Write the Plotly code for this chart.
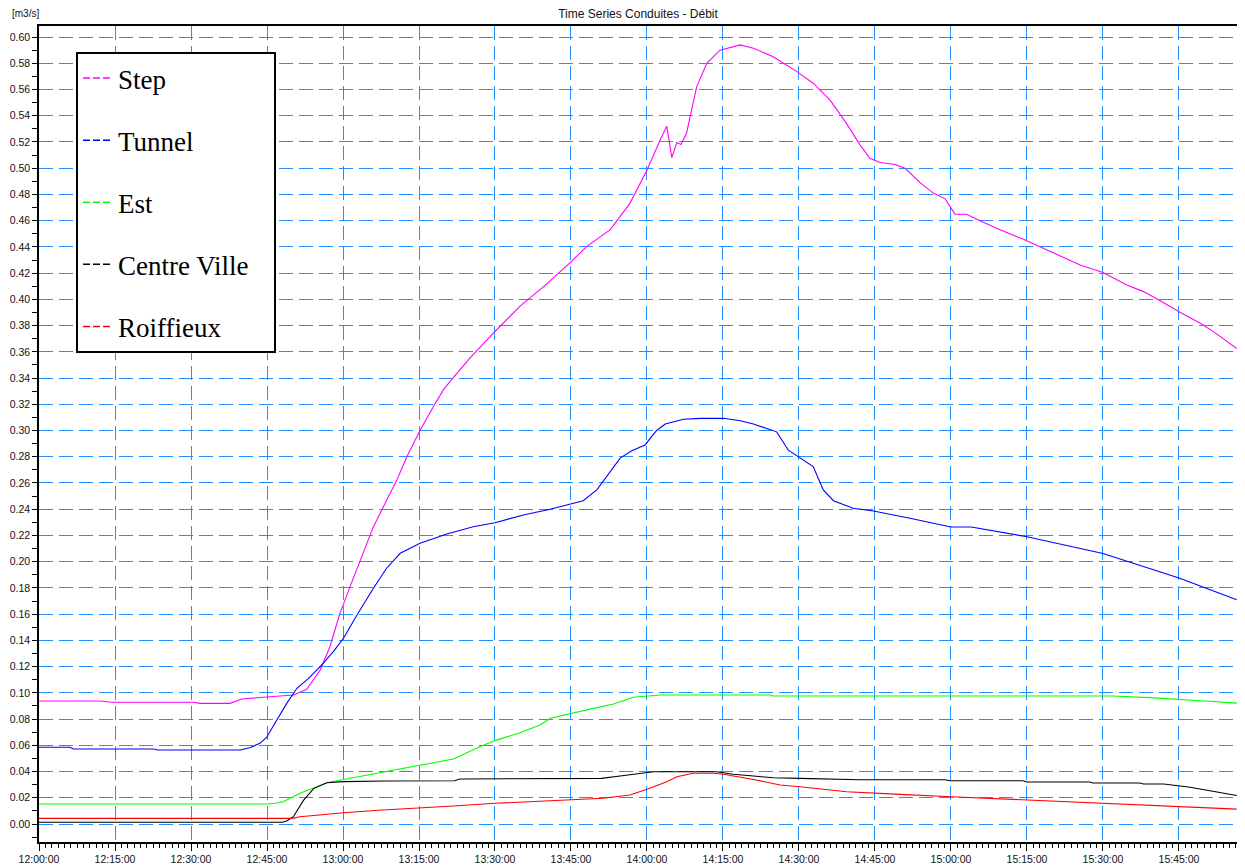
import pandas as pd
import plotly.graph_objects as go

BASE = pd.Timestamp("2024-01-01 12:00:00")

# ---- data (time in minutes after 12:00:00, discharge in m3/s) ----
step_t = [0, 12, 14.3, 30.5, 31.8, 37.7, 40, 41.6, 47, 50.2, 52.8, 55.5, 57.4, 59.4, 61.4,
          63.4, 66, 68, 70.6, 72.6, 75.2, 77.8, 79.8, 81.4, 85, 90, 95, 100, 105, 108,
          112.7, 116.6, 120, 122.6, 123.9, 124.9, 125.9, 126.7, 127.8, 129.8, 131.8, 134.4,
          138.4, 141, 144.9, 149.6, 152.8, 156.1, 159.4, 162, 164, 166, 169, 171, 173.9,
          176.5, 178.8, 180.8, 183.1, 185.7, 189.7, 194.3, 197.6, 200.2, 205.5, 210, 214.7,
          218, 221.3, 225, 229.2, 231.8, 236.4]
step_v = [0.0938, 0.0938, 0.0928, 0.0928, 0.0920, 0.0920, 0.0953, 0.0958, 0.0970, 0.0984,
          0.1025, 0.1174, 0.135, 0.1606, 0.181, 0.201, 0.2267, 0.242, 0.262, 0.280, 0.300,
          0.318, 0.331, 0.3386, 0.355, 0.3755, 0.395, 0.411, 0.4285, 0.440, 0.453, 0.473,
          0.4987, 0.5215, 0.532, 0.508, 0.5195, 0.518, 0.5266, 0.562, 0.580, 0.590, 0.594,
          0.5915, 0.585, 0.5736, 0.5648, 0.552, 0.534, 0.518, 0.5076, 0.5043, 0.5028, 0.4997,
          0.489, 0.481, 0.4768, 0.465, 0.4649, 0.460, 0.453, 0.4458, 0.440, 0.4356, 0.4262,
          0.4204, 0.411, 0.4059, 0.399, 0.3906, 0.3818, 0.3754, 0.3625]

tunnel_t = [0, 6.1, 6.8, 22.6, 23.5, 39.7, 41.6, 43.6, 44.9, 46.9, 48.9, 50.9, 53.2, 55.5,
            58.1, 60.1, 62.7, 66, 68.6, 71.3, 75.2, 80.5, 85.7, 90, 95.6, 100.9, 104.8, 107.4,
            110.1, 114.7, 117, 119.6, 121.9, 123.6, 127.2, 130.5, 135.1, 138.4, 141, 145.6,
            147.9, 149.9, 152.8, 154.8, 156.8, 160.7, 164.7, 171.9, 180, 184, 195, 210, 225,
            236.4]
tunnel_v = [0.0585, 0.0585, 0.0572, 0.0572, 0.0564, 0.0564, 0.0582, 0.0615, 0.066, 0.0793,
            0.092, 0.1035, 0.111, 0.120, 0.1314, 0.1416, 0.159, 0.1797, 0.195, 0.2064, 0.214,
            0.2211, 0.2267, 0.2297, 0.2356, 0.240, 0.244, 0.2465, 0.2547, 0.279, 0.2846,
            0.289, 0.300, 0.305, 0.3086, 0.3093, 0.3093, 0.3075, 0.305, 0.299, 0.285, 0.280,
            0.2725, 0.2547, 0.2465, 0.2407, 0.2387, 0.2331, 0.2265, 0.2265, 0.219, 0.2062,
            0.1876, 0.171]

est_t = [0, 45, 47, 48.2, 51.5, 56.8, 60.1, 67, 74.5, 81.8, 87, 90, 94.9, 98.9, 100.9, 105,
         109.4, 113.4, 117.3, 122.6, 144.3, 145, 212, 220, 225, 230, 236.4]
est_v = [0.0153, 0.0153, 0.016, 0.017, 0.0234, 0.0315, 0.034, 0.039, 0.0442, 0.0496, 0.059,
         0.0636, 0.0696, 0.0755, 0.0806, 0.0844, 0.0882, 0.0915, 0.0966, 0.0984, 0.0984,
         0.0976, 0.0976, 0.0962, 0.0948, 0.0938, 0.0922]

centre_t = [0, 48, 48.9, 50.2, 52.2, 54.2, 56.8, 60.1, 68.6, 82, 83.1, 96.6, 100.9, 111,
            114.7, 117.3, 121.3, 133.7, 137, 141, 144.9, 150.2, 160.7, 162, 178.8, 179.8,
            194.2, 195, 207.4, 208, 217.3, 218, 222, 224.6, 227.2, 236.4]
centre_v = [0.0013, 0.0013, 0.0023, 0.0056, 0.018, 0.027, 0.0315, 0.0323, 0.0328, 0.033,
            0.0343, 0.0343, 0.0348, 0.0348, 0.0366, 0.0379, 0.0399, 0.0399, 0.0379, 0.0366,
            0.0353, 0.0348, 0.0343, 0.0338, 0.0338, 0.033, 0.033, 0.032, 0.032, 0.0313,
            0.0313, 0.0305, 0.0305, 0.0295, 0.028, 0.0218]

roif_t = [0, 50, 51.5, 56.8, 60.1, 67, 75.2, 81.8, 90, 101.5, 111.4, 116.6, 120, 123.9,
          125.9, 129.1, 133.1, 135.1, 141, 146.3, 150.2, 159.4, 164.7, 170, 180, 195, 210,
          225, 236.4]
roif_v = [0.0043, 0.0043, 0.0056, 0.0076, 0.0086, 0.0105, 0.012, 0.0137, 0.0158, 0.0178,
          0.0196, 0.0221, 0.0265, 0.0323, 0.0361, 0.0387, 0.0387, 0.0379, 0.034, 0.0297,
          0.0284, 0.0246, 0.0234, 0.0226, 0.0208, 0.0183, 0.0163, 0.0137, 0.0114]

series_names = ["Step", "Tunnel", "Est", "Centre Ville", "Roiffieux"]
series_colors = ["#FF00FF", "#0000FF", "#00FF00", "#000000", "#FF0000"]
series_t = [step_t, tunnel_t, est_t, centre_t, roif_t]
series_v = [step_v, tunnel_v, est_v, centre_v, roif_v]

x_end_min = 236.45
y_range = [-0.0137, 0.6084]

# the page body has an 8px default margin: size the figure so it fits the window
FIG_W, FIG_H = 1237, 858
M_L, M_R, M_T, M_B = 31, 8, 18, 24
PLOT_W = FIG_W - M_L - M_R
PLOT_H = FIG_H - M_T - M_B


def to_time(mins):
    return BASE + pd.to_timedelta(pd.Series(mins, dtype=float), unit="min")


fig = go.Figure()
for name, col, t, v in zip(series_names, series_colors, series_t, series_v):
    fig.add_trace(go.Scatter(x=to_time(t), y=v, mode="lines", name=name,
                             line=dict(color=col, width=1.1), showlegend=False,
                             hoverinfo="x+y+name"))
# legend entries (dashed symbols like the original)
for i, (name, col) in enumerate(zip(series_names, series_colors)):
    label = name + ("\u00a0\u00a0\u00a0" if name == "Centre Ville" else "")
    fig.add_trace(go.Scatter(x=[None], y=[None], mode="lines", name=label,
                             line=dict(color=col, width=1.5, dash="7px,3px"),
                             legendgroup=f"g{i}", showlegend=True))

grid_col = "#1E90FF"
axis_font = dict(family="Liberation Sans, Arial, sans-serif", size=10.5, color="#111")

fig.update_layout(
    width=FIG_W, height=FIG_H,
    margin=dict(l=M_L, r=M_R, t=M_T, b=M_B, autoexpand=False),
    paper_bgcolor="white", plot_bgcolor="white",
    title=dict(text="Time Series Conduites - Débit", x=0.5, xref="paper", xanchor="center",
               y=1 - 6 / FIG_H, yref="container", yanchor="middle",
               font=dict(family="Liberation Sans, Arial, sans-serif", size=12, color="#111")),
    showlegend=True,
    legend=dict(x=37 / PLOT_W, y=1 - 26 / PLOT_H, xanchor="left", yanchor="top",
                bgcolor="white", bordercolor="black", borderwidth=2,
                font=dict(family="Liberation Serif, Times New Roman, serif", size=27,
                          color="black"),
                tracegroupgap=24, itemwidth=30),
    annotations=[dict(text="[m3/s]", xref="paper", yref="paper",
                      x=-29 / PLOT_W, y=1 + 13 / PLOT_H, xanchor="left", yanchor="middle",
                      showarrow=False, font=dict(family="Liberation Sans, Arial, sans-serif",
                                                 size=10, color="#111"))],
)

fig.update_xaxes(
    type="date", automargin=False,
    range=[BASE, BASE + pd.Timedelta(minutes=x_end_min)],
    tick0=BASE, dtick=15 * 60 * 1000, tickformat="%H:%M:%S",
    ticks="outside", ticklen=7, tickcolor="black", tickfont=axis_font,
    showgrid=True, gridcolor=grid_col, griddash="14px,6px", gridwidth=1,
    showline=True, linecolor="black", linewidth=1.5, mirror=True,
    minor=dict(dtick=75 * 1000, ticks="outside", ticklen=4, tickcolor="black", showgrid=False),
    zeroline=False,
)
fig.update_yaxes(
    automargin=False,
    range=y_range, tick0=0, dtick=0.02, tickformat=".2f",
    ticks="outside", ticklen=5, tickcolor="black", tickfont=axis_font,
    showgrid=True, gridcolor=grid_col, griddash="14px,6px", gridwidth=1,
    showline=True, linecolor="black", linewidth=1.5, mirror=True,
    minor=dict(dtick=0.01, ticks="outside", ticklen=5, tickcolor="black", showgrid=False),
    zeroline=False,
)

fig.write_html("out.html")
